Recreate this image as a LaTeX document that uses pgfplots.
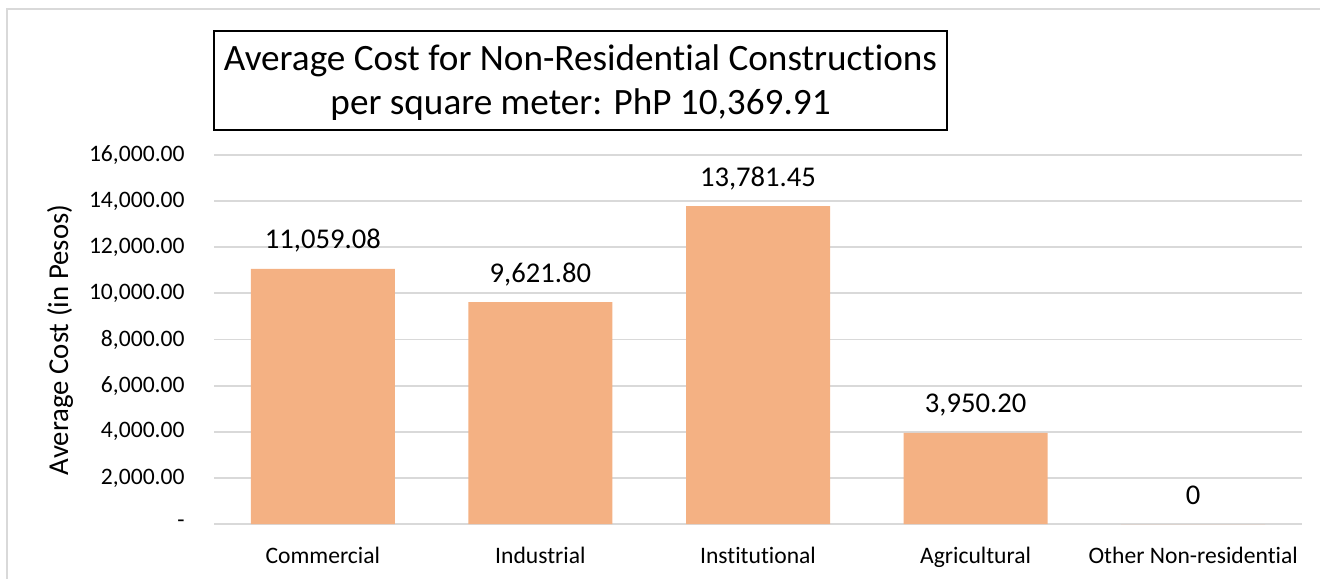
\documentclass[border=0pt]{standalone}
\usepackage{fontspec}
\setmainfont{Carlito}[Ligatures=NoCommon]
\usepackage{pgfplots}
\pgfplotsset{compat=1.18}
\definecolor{barfill}{HTML}{F4B183}
\definecolor{gridgray}{HTML}{D9D9D9}
\begin{document}
\begin{tikzpicture}
\useasboundingbox (0,0) rectangle (660pt,289pt);
\draw[line width=0.75pt, gridgray] (3.5pt,-2pt) -- (3.5pt,284.5pt) -- (662pt,284.5pt);
% title box
\draw[line width=0.7pt, black] (107pt,224pt) rectangle (473.5pt,273.5pt);
\node[anchor=base, inner sep=0pt, font=\fontsize{18.6}{22}\selectfont] at (290.25pt,253.5pt) {Average Cost for Non-Residential Constructions};
\node[anchor=base, inner sep=0pt, font=\fontsize{18.6}{22}\selectfont] at (290.25pt,231.5pt) {per square meter: PhP 10,369.91};
% y label
\node[rotate=90, inner sep=0pt, font=\fontsize{14.4}{17}\selectfont] at (30pt,119pt) {Average Cost (in Pesos)};
\begin{axis}[
    at={(107pt,27pt)}, anchor=south west,
    scale only axis,
    width=544pt, height=184.5pt,
    xmin=-0.5, xmax=4.5,
    ymin=0, ymax=16000,
    enlargelimits=false,
    clip=false,
    axis line style={draw=none},
    major tick length=0pt,
    ymajorgrids,
    grid style={gridgray, line width=0.9pt},
    xtick={0,1,2,3,4},
    xticklabels={Commercial, Industrial, Institutional, Agricultural, Other Non-residential},
    ytick={0,2000,4000,6000,8000,10000,12000,14000,16000},
    scaled y ticks=false,
    yticklabels={{-\hspace{5pt}},{2,000.00},{4,000.00},{6,000.00},{8,000.00},{10,000.00},{12,000.00},{14,000.00},{16,000.00}},
    /pgf/number format/assume math mode=true,
    ticklabel style={font=\fontsize{11.8}{14}\selectfont},
    yticklabel style={anchor=east, xshift=-14.5pt, inner sep=0pt},
    xticklabel style={anchor=base, yshift=-19.5pt, inner sep=0pt},
    nodes near coords,
    point meta=explicit symbolic,
    nodes near coords style={anchor=base, yshift=10pt, inner sep=0pt, font=\fontsize{14.3}{17}\selectfont, black},
]
\addplot[ybar, bar width=72pt, fill=barfill, draw=none] coordinates {
    (0,11059.08) [11,059.08]
    (1,9621.80) [9,621.80]
    (2,13781.45) [13,781.45]
    (3,3950.20) [3,950.20]
    (4,0) [0]
};
\end{axis}
\end{tikzpicture}
\end{document}
